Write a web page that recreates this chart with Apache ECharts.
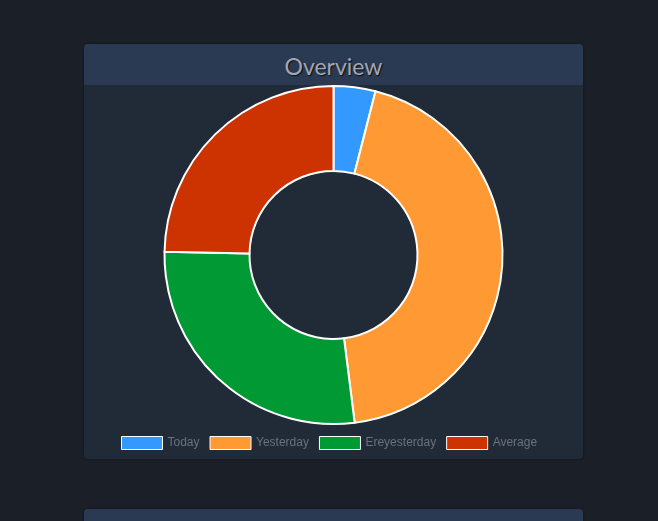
<!DOCTYPE html>
<html><head><meta charset="utf-8">
<script src="https://cdn.jsdelivr.net/npm/echarts@6/dist/echarts.min.js"></script>
<style>
html,body{margin:0;padding:0;background:#1b1f28;width:658px;height:521px;overflow:hidden;}
.card{position:absolute;left:84px;width:499px;border-radius:4px;background:#212b38;overflow:hidden;box-shadow:0 0 2px #111;}
.hdr{height:41px;background:#2a3a52;color:#a0a8b8;font-family:Lato,"Open Sans",sans-serif;font-size:23px;text-align:center;line-height:44px;text-shadow:1px 1px 1px #111;}
#chart{position:absolute;left:0;top:41px;width:499px;height:374px;}
</style></head>
<body>
<div class="card" style="top:44px;height:415px;"><div class="hdr">Overview</div><div id="chart"></div></div>
<div class="card" style="top:509px;height:60px;"><div class="hdr"></div></div>
<script>
const categories = ["Today","Yesterday","Ereyesterday","Average"];
const values = [4, 44, 27.3, 24.7];
const colors = ["#3399ff","#ff9933","#009933","#cc3300"];
const chart = echarts.init(document.getElementById('chart'));
chart.setOption({
  animation:false,
  legend:{
    data:categories, bottom:4, left:32, icon:'rect', itemWidth:41, itemHeight:13,
    itemGap:10, textStyle:{color:'#6a707c', fontSize:12, fontFamily:'Liberation Sans, Arial'},
    itemStyle:{borderColor:'#fff', borderWidth:1}
  },
  series:[{
    type:'pie', center:[249.5,170], radius:[84,169], startAngle:90, clockwise:true,
    label:{show:false}, labelLine:{show:false}, silent:true,
    itemStyle:{borderColor:'#fff', borderWidth:2},
    data:categories.map((c,i)=>({name:c,value:values[i],itemStyle:{color:colors[i]}}))
  }]
});
</script>
</body></html>
